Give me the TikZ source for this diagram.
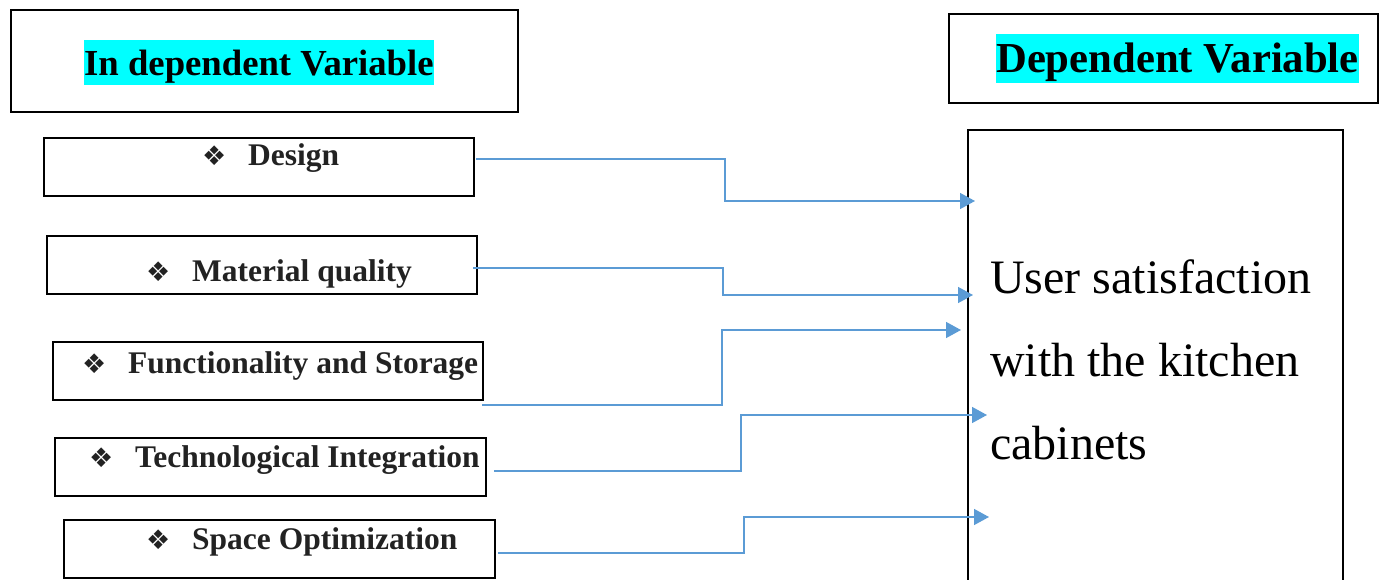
\documentclass[tikz,border=0pt]{standalone}
\usepackage{fontspec}
\setmainfont{Liberation Serif}
\newfontfamily\symfont{DejaVu Sans}
\usetikzlibrary{arrows.meta}
\definecolor{arrowblue}{HTML}{5B9BD5}
\definecolor{itemcol}{HTML}{222222}
\definecolor{hilite}{HTML}{00FFFF}
\newcommand{\itembullet}{\makebox[46pt][l]{\symfont\fontsize{27}{27}\selectfont ❖}}
\begin{document}
\begin{tikzpicture}[x=1pt,y=-1pt,
  box/.style={draw=black, line width=2pt, inner sep=0pt, anchor=north west},
  headtext/.style={fill=hilite, inner xsep=0pt, inner ysep=0pt, anchor=base west},
  itemtext/.style={anchor=base west, inner sep=0pt, text=itemcol, font=\bfseries\fontsize{31.5}{36}\selectfont},
  link/.style={draw=arrowblue, line width=1.5pt, -{Triangle[length=15pt,width=16pt]}},
]
\useasboundingbox (0,0) rectangle (1382,580);
\clip (0,0) rectangle (1382,580);

% header boxes
\node[box, minimum width=507pt, minimum height=102pt] (indep) at (10,9) {};
\node[headtext, font=\bfseries\fontsize{36.7}{44}\selectfont, text height=36pt, text depth=9pt] (indeptxt) at (84,76) {In dependent Variable};
\node[box, minimum width=429pt, minimum height=89pt] (dep) at (948,13) {};
\node[headtext, font=\bfseries\fontsize{42.7}{50}\selectfont, text height=39pt, text depth=10pt] (deptxt) at (996,73) {Dependent Variable};

% item boxes
\node[box, minimum width=430pt, minimum height=58pt] (design) at (43,137) {};
\node[box, minimum width=430pt, minimum height=58pt] (material) at (46,235) {};
\node[box, minimum width=430pt, minimum height=58pt] (func) at (52,341) {};
\node[box, minimum width=431pt, minimum height=58pt] (tech) at (54,437) {};
\node[box, minimum width=431pt, minimum height=58pt] (space) at (63,519) {};

\node[itemtext] (designtxt) at (202,166) {\itembullet Design};
\node[itemtext] (materialtxt) at (146,281) {\itembullet Material quality};
\node[itemtext] (functxt) at (82,373) {\itembullet Functionality and Storage};
\node[itemtext] (techtxt) at (89,467) {\itembullet Technological Integration};
\node[itemtext] (spacetxt) at (146,549) {\itembullet Space Optimization};

% dependent box
\node[box, minimum width=375pt, minimum height=480pt] (user) at (967,129) {};
\node[anchor=north west, inner sep=0pt, align=left, font=\fontsize{48}{83}\selectfont] (usertxt) at (990,260) {User satisfaction\\with the kitchen\\cabinets};

% connectors
\coordinate (s1) at (476,159); \coordinate (t1) at (975,201);
\coordinate (s2) at (473,268); \coordinate (t2) at (973,295);
\coordinate (s3) at (482,405); \coordinate (t3) at (961,330);
\coordinate (s4) at (494,471); \coordinate (t4) at (987,415);
\coordinate (s5) at (498,553); \coordinate (t5) at (989,517);
\draw[link] (s1) -- ++(249,0) |- (t1);
\draw[link] (s2) -- ++(250,0) |- (t2);
\draw[link] (s3) -- ++(240,0) |- (t3);
\draw[link] (s4) -- ++(247,0) |- (t4);
\draw[link] (s5) -- ++(246,0) |- (t5);
\end{tikzpicture}
\end{document}
